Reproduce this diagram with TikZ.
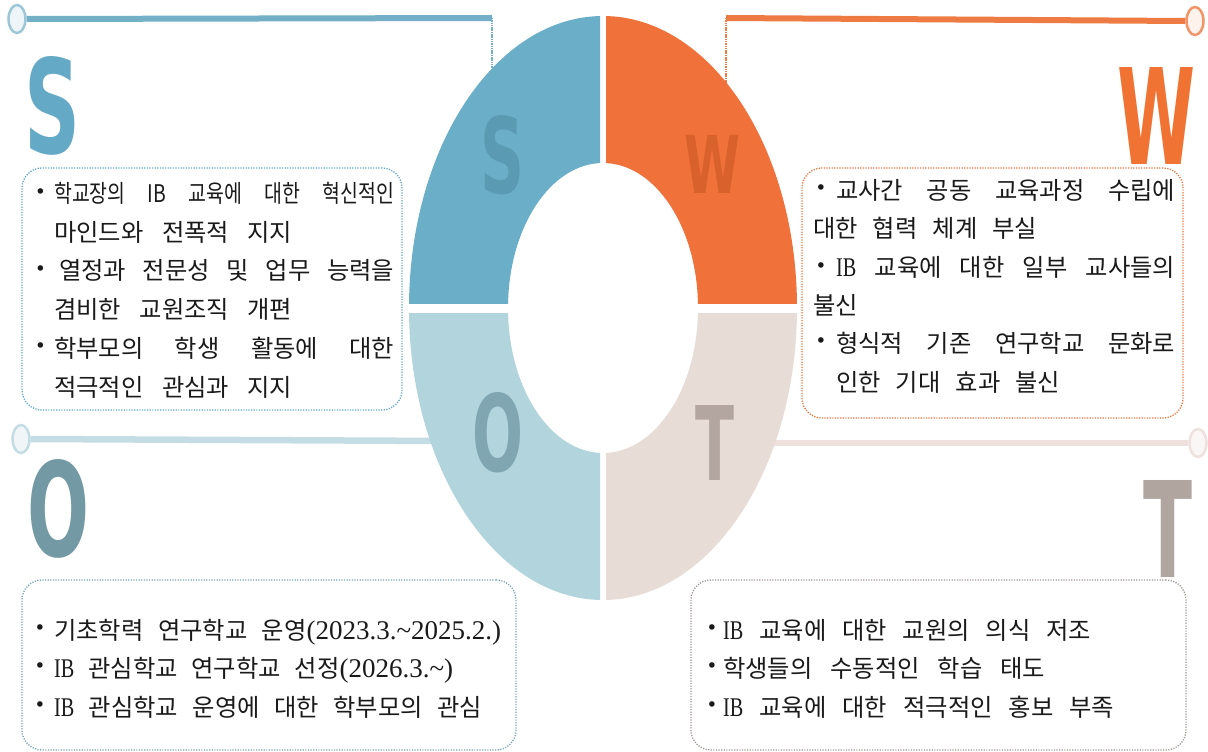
\documentclass[tikz,border=0pt]{standalone}
\usepackage{fontspec}
\usepackage{graphicx}
\usetikzlibrary{shapes.geometric}
\setmainfont{Noto Sans CJK KR}
\newfontfamily\lat{Liberation Serif}
\newfontfamily\dv{DejaVu Sans}
\pgfdeclarelayer{bg}
\pgfsetlayers{bg,main}

\definecolor{sfill}{HTML}{6AAEC8}
\definecolor{wfill}{HTML}{F1713A}
\definecolor{ofill}{HTML}{B2D4DD}
\definecolor{tfill}{HTML}{E8DCD7}
\definecolor{sring}{HTML}{5A9AB3}
\definecolor{wring}{HTML}{D9622C}
\definecolor{oring}{HTML}{7FA6B1}
\definecolor{tring}{HTML}{B3A6A1}
\definecolor{sbig}{HTML}{64A9C5}
\definecolor{wbig}{HTML}{F07333}
\definecolor{obig}{HTML}{7399A5}
\definecolor{tbig}{HTML}{B1A59F}
\definecolor{sline}{HTML}{73AFC6}
\definecolor{wline}{HTML}{EE7B44}
\definecolor{oline}{HTML}{C4DCE3}
\definecolor{tline}{HTML}{EFE1DD}
\definecolor{sbox}{HTML}{5EA9C8}
\definecolor{wbox}{HTML}{F07238}
\definecolor{obox}{HTML}{7AA5B3}
\definecolor{tbox}{HTML}{A09894}
\definecolor{txtc}{HTML}{1A1A1A}

\newcommand\kr{\fontsize{24.3}{29}\selectfont}
\newcommand\sk{\hskip 10pt plus 1fil minus 3pt\relax}
\newcommand\jl[2]{\makebox[#1pt][s]{#2}}
\newcommand\latpart[1]{{\lat\fontsize{27}{30}\selectfont #1}}
\newcommand\IBs{{\lat\fontsize{27}{30}\selectfont\scalebox{0.75}[1]{IB}}}
\newcommand\cw[1]{\scalebox{0.8}[1]{#1}}
\newcommand\bigletter[3]{\resizebox{#1pt}{#2pt}{\dv\bfseries #3}}

\tikzset{
  txt/.style={anchor=base west, inner sep=0pt, text=txtc, font=\kr},
  bul/.style={anchor=center, inner sep=0pt, text=txtc, font=\dv\fontsize{19}{24}\selectfont},
  dotbox/.style={rectangle, rounded corners=20pt, line width=1.3pt, dash pattern=on 1.2pt off 1.4pt, minimum width=#1},
  endc/.style={ellipse, minimum width=17pt, minimum height=28pt, inner sep=0pt, line width=2.5pt},
  letter/.style={anchor=base, inner sep=0pt, text depth=0pt},
  conn/.style={line width=#1},
}

\begin{document}
\begin{tikzpicture}[x=1pt,y=-1pt]
\useasboundingbox (0,0) rectangle (1208,752);

% ---- end circles and connector coordinates
\node[endc, draw=sline!70, fill=sline!12] (sc) at (17,19) {};
\node[endc, draw=wline!80, fill=wline!10] (wc) at (1195,21) {};
\node[endc, draw=oline, fill=oline!25] (oc) at (21,439) {};
\node[endc, draw=tline, fill=tline!30] (tc) at (1198,443) {};
\coordinate (sv) at (492,18);
\coordinate (sv2) at (492,70);
\coordinate (wv) at (726,18);
\coordinate (wv2) at (726,83);
\coordinate (oe) at (450,441);
\coordinate (te) at (760,443);

\begin{pgfonlayer}{bg}
\fill[white] (0,0) rectangle (1208,752);
\draw[conn=6pt, sline] (sc.east) -- (sv);
\draw[conn=2pt, sline, dash pattern=on 1.5pt off 0.8pt] (sv) -- (sv2);
\draw[conn=6pt, wline] (wc.west) -- (wv);
\draw[conn=2pt, wline, dash pattern=on 1.5pt off 0.8pt] (wv) -- (wv2);
\draw[conn=6.5pt, oline] (oc.east) -- (oe);
\draw[conn=5.5pt, tline] (te) -- (tc.west);
\end{pgfonlayer}

% ---- ring
\begin{scope}
\clip (400,0) rectangle (600,303);
\fill[sfill, even odd rule] (603,308) ellipse [x radius=194, y radius=292] (603,308) ellipse [x radius=95, y radius=145];
\end{scope}
\begin{scope}
\clip (606,0) rectangle (810,303);
\fill[wfill, even odd rule] (603,308) ellipse [x radius=194, y radius=292] (603,308) ellipse [x radius=95, y radius=145];
\end{scope}
\begin{scope}
\clip (400,313) rectangle (600,610);
\fill[ofill, even odd rule] (603,308) ellipse [x radius=194, y radius=292] (603,308) ellipse [x radius=95, y radius=145];
\end{scope}
\begin{scope}
\clip (606,313) rectangle (810,610);
\fill[tfill, even odd rule] (603,308) ellipse [x radius=194, y radius=292] (603,308) ellipse [x radius=95, y radius=145];
\end{scope}

% ring letters
\node[letter, text=sring] (rs) at (503,193) {\bigletter{44}{78}{S}};
\node[letter, text=wring] (rw) at (712.5,193) {\bigletter{56}{58}{W}};
\node[letter, text=oring] (ro) at (497.5,471) {\bigletter{51}{79}{O}};
\node[letter, text=tring] (rt) at (714.5,480) {\bigletter{39}{75}{T}};

% big letters
\node[letter, text=sbig] (bs) at (52.5,153) {\bigletter{56}{97}{S}};
\node[letter, text=wbig] (bw) at (1157,164) {\bigletter{78}{97}{W}};
\node[letter, text=obig] (bo) at (58.5,556) {\bigletter{62}{97}{O}};
\node[letter, text=tbig] (bt) at (1167.5,577) {\bigletter{49}{97}{T}};

% ---- boxes
\node[dotbox=380pt, draw=sbox, minimum height=242pt] (sb) at (212,289) {};
\node[dotbox=381pt, draw=wbox, minimum height=250pt] (wb) at (992.5,293) {};
\node[dotbox=494pt, draw=obox, minimum height=170pt] (ob) at (269,665) {};
\node[dotbox=495pt, draw=tbox, minimum height=170pt] (tb) at (938.5,665) {};

% ---- S text
\node[bul] (sb1) at (40.5,194) {•};
\node[bul] (sb2) at (40.5,271) {•};
\node[bul] (sb3) at (40.5,348) {•};
\node[txt] (s1) at (54,202) {\jl{340}{\cw{학교장의}\sk\cw{IB}\sk\cw{교육에}\sk\cw{대한}\sk\cw{혁신적인}}};
\node[txt] (s2) at (54,241) {\jl{238}{마인드와\sk 전폭적\sk 지지}};
\node[txt] (s3) at (59,279) {\jl{335}{열정과\sk 전문성\sk 및\sk 업무\sk 능력을}};
\node[txt] (s4) at (54,318) {\jl{238}{겸비한\sk 교원조직\sk 개편}};
\node[txt] (s5) at (54,357) {\jl{340}{학부모의\sk 학생\sk 활동에\sk 대한}};
\node[txt] (s6) at (54,396) {\jl{238}{적극적인\sk 관심과\sk 지지}};

% ---- W text
\node[bul] (wb1) at (821,190) {•};
\node[bul] (wb2) at (821,268) {•};
\node[bul] (wb3) at (821,343) {•};
\node[txt] (w1) at (836,199) {\jl{339}{교사간\sk 공동\sk 교육과정\sk 수립에}};
\node[txt] (w2) at (813,237) {\jl{224}{대한\sk 협력\sk 체계\sk 부실}};
\node[txt] (w3) at (836,276) {\jl{339}{\IBs\sk 교육에\sk 대한\sk 일부\sk 교사들의}};
\node[txt] (w4) at (813,314) {불신};
\node[txt] (w5) at (836,352) {\jl{339}{형식적\sk 기존\sk 연구학교\sk 문화로}};
\node[txt] (w6) at (836,391) {\jl{224}{인한\sk 기대\sk 효과\sk 불신}};

% ---- O text
\node[bul] (ob1) at (40,630) {•};
\node[bul] (ob2) at (40,668) {•};
\node[bul] (ob3) at (40,707) {•};
\node[txt] (o1) at (54,639) {\jl{447}{기초학력\sk 연구학교\sk 운영\latpart{(2023.3.\textasciitilde 2025.2.)}}};
\node[txt] (o2) at (54,677) {\jl{399}{\IBs\sk 관심학교\sk 연구학교\sk 선정\latpart{(2026.3.\textasciitilde)}}};
\node[txt] (o3) at (54,716) {\jl{428}{\IBs\sk 관심학교\sk 운영에\sk 대한\sk 학부모의\sk 관심}};

% ---- T text
\node[bul] (tb1) at (712,630) {•};
\node[bul] (tb2) at (712,668) {•};
\node[bul] (tb3) at (712,707) {•};
\node[txt] (t1) at (723,639) {\jl{368}{\IBs\sk 교육에\sk 대한\sk 교원의\sk 의식\sk 저조}};
\node[txt] (t2) at (723,677) {\jl{322}{학생들의\sk 수동적인\sk 학습\sk 태도}};
\node[txt] (t3) at (723,716) {\jl{391}{\IBs\sk 교육에\sk 대한\sk 적극적인\sk 홍보\sk 부족}};
\end{tikzpicture}
\end{document}
